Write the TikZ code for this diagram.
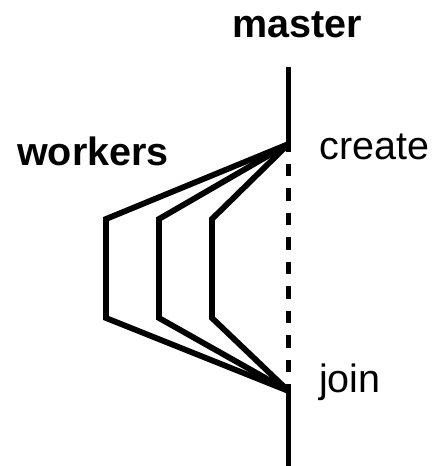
\documentclass[tikz,border=0pt]{standalone}
\usepackage{fontspec}
\setmainfont{Liberation Sans}
\begin{document}
\begin{tikzpicture}[x=1pt,y=-1pt,
  wline/.style={line width=5.8pt, line join=miter},
  lbl/.style={anchor=base west, inner sep=0pt, font=\fontsize{39.5}{39.5}\selectfont},
  blbl/.style={lbl, font=\fontsize{39.5}{39.5}\selectfont\bfseries}]
\useasboundingbox (0,0) rectangle (433,466);
% master line points
\coordinate (top) at (288.5,67);
\coordinate (c) at (288.5,144);
\coordinate (j) at (288.5,391);
\coordinate (bot) at (288.5,466);
% worker corners
\coordinate (w1a) at (106,219);
\coordinate (w1b) at (106,318);
\coordinate (w2a) at (159,219);
\coordinate (w2b) at (159,318);
\coordinate (w3a) at (212,219);
\coordinate (w3b) at (212,318);
% labels
\node[blbl] (master) at (232,37) {master};
\node[blbl] (workers) at (17,165) {workers};
\node[lbl] (create) at (319.5,159) {create};
\node[lbl] (join) at (319,392) {join};
% master line
\draw[wline] (top) -- (c);
\draw[wline, dash pattern=on 12.5pt off 12pt, dash phase=5pt] (c) -- (j);
\draw[wline] (j) -- (bot);
% workers
\draw[wline] (c) -- (w1a) -- (w1b) -- (j);
\draw[wline] (c) -- (w2a) -- (w2b) -- (j);
\draw[wline] (c) -- (w3a) -- (w3b) -- (j);
\end{tikzpicture}
\end{document}
